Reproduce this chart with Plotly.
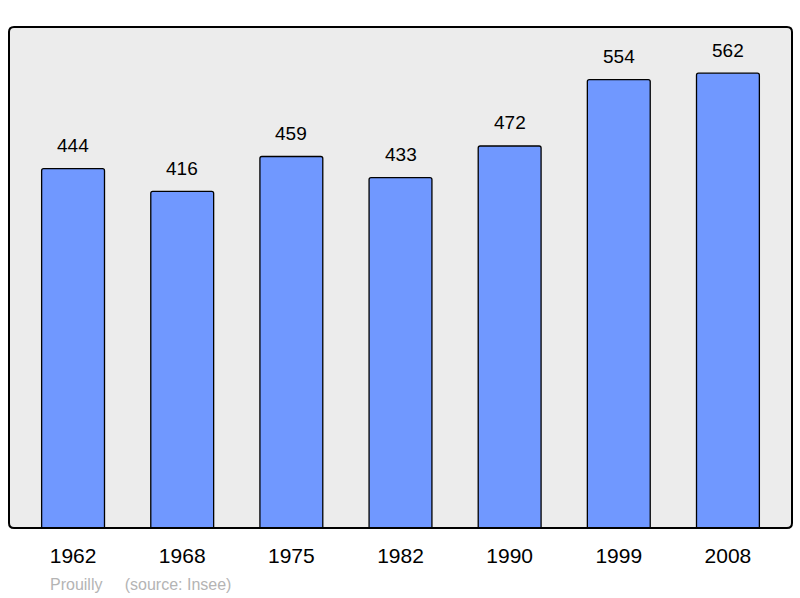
import plotly.graph_objects as go

years = ["1962", "1968", "1975", "1982", "1990", "1999", "2008"]
population = [444, 416, 459, 433, 472, 554, 562]
commune = "Prouilly"
source = "(source: Insee)"

FONT = "Liberation Sans, Arial, sans-serif"

fig = go.Figure()
fig.add_trace(go.Bar(
    x=years, y=population,
    width=0.576,
    marker=dict(color="#7098ff", line=dict(color="#000000", width=1.3), cornerradius=2),
    hoverinfo="skip",
))

for i, v in enumerate(population):
    fig.add_annotation(x=i, y=v, text=str(v), showarrow=False,
                       yanchor="middle", yshift=23,
                       font=dict(family=FONT, size=19, color="#000"))

fig.add_annotation(xref="paper", yref="paper", x=0.05, y=-0.112, xanchor="left", yanchor="middle",
                   text=commune + "&nbsp;" * 5 + source, showarrow=False,
                   font=dict(family=FONT, size=16, color="#b4b4b4"))

# rounded frame of the plot area
rx, ry = 5 / 783, 5 / 501
frame = (f"M {rx},0 L {1-rx},0 Q 1,0 1,{ry} L 1,{1-ry} Q 1,1 {1-rx},1 "
         f"L {rx},1 Q 0,1 0,{1-ry} L 0,{ry} Q 0,0 {rx},0 Z")
fig.add_shape(type="path", xref="paper", yref="paper", path=frame,
              fillcolor="#ececec", line=dict(width=0), layer="below")
fig.add_shape(type="path", xref="paper", yref="paper", path=frame,
              line=dict(color="#000", width=2), layer="above")

fig.update_layout(
    width=800, height=598,
    margin=dict(l=9, r=8, t=27, b=70),
    paper_bgcolor="#ffffff",
    plot_bgcolor="rgba(0,0,0,0)",
    showlegend=False,
    font=dict(family=FONT),
    xaxis=dict(type="category", range=[-0.587, 6.587], showgrid=False, zeroline=False,
               ticks="", tickfont=dict(size=21, color="#000"), ticklabelstandoff=13,
               fixedrange=True),
    yaxis=dict(range=[0, 619], showgrid=False, zeroline=False, showticklabels=False,
               fixedrange=True),
)

fig.write_html("out.html", config={"displayModeBar": False},
               post_script="document.body.style.margin='0';document.body.style.overflow='hidden';")
